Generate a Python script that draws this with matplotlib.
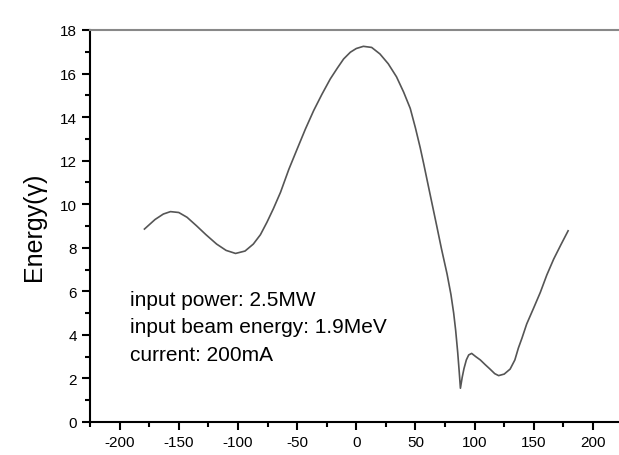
import matplotlib
matplotlib.use("Agg")
from matplotlib import pyplot as plt
from matplotlib.ticker import MultipleLocator

# values
phase = [-179, -170, -163, -157, -150, -143, -135, -127, -118, -110, -102,
         -94, -87, -81, -75.5, -70, -64, -57, -50, -43, -36, -29, -22, -16,
         -10.7, -5, 0, 6, 13, 20, 27, 34, 40, 45.6, 50, 54, 57, 62, 68,
         72, 76.7, 80, 82.3, 84, 85.7, 87, 88, 89.5, 91, 93, 95, 97.5,
         101, 104.8, 109, 113, 117, 120.3, 125, 130, 134, 137, 140, 144,
         150, 155.5, 161, 166.8, 173, 179]
energy = [8.86, 9.3, 9.55, 9.66, 9.62, 9.4, 9.01, 8.6, 8.17, 7.88, 7.74,
          7.85, 8.17, 8.6, 9.17, 9.8, 10.55, 11.6, 12.53, 13.45, 14.3, 15.05,
          15.75, 16.25, 16.67, 16.98, 17.15, 17.25, 17.2, 16.9, 16.45, 15.85,
          15.15, 14.4, 13.5, 12.6, 11.85, 10.55, 9.0, 7.95, 6.8, 5.85, 5.0,
          4.2, 3.2, 2.3, 1.55, 2.05, 2.45, 2.85, 3.08, 3.15, 3.0, 2.85, 2.63,
          2.43, 2.22, 2.13, 2.2, 2.43, 2.85, 3.4, 3.85, 4.5, 5.25, 5.95,
          6.75, 7.48, 8.15, 8.78]

notes = ["input power: 2.5MW", "input beam energy: 1.9MeV", "current: 200mA"]

plt.rcParams['font.family'] = ['Liberation Sans', 'DejaVu Sans']
plt.rcParams['axes.unicode_minus'] = False

fig = plt.figure(figsize=(6.19, 4.56), dpi=100)
ax = fig.add_axes([90 / 619, 33 / 456, 1 - 90 / 619, 392 / 456])

ax.plot(phase, energy, color="#555555", lw=1.2)

ax.set_xlim(-225, 222)
ax.set_ylim(0, 18)
ax.xaxis.set_major_locator(MultipleLocator(50))
ax.xaxis.set_minor_locator(MultipleLocator(25))
ax.yaxis.set_major_locator(MultipleLocator(2))
ax.yaxis.set_minor_locator(MultipleLocator(1))

ax.spines["right"].set_visible(False)
ax.spines["top"].set_color("#888888")
ax.spines["top"].set_linewidth(1.5)
ax.spines["left"].set_linewidth(1.5)
ax.spines["bottom"].set_linewidth(1.5)

ax.tick_params(which="major", direction="out", length=6, width=1.5,
               labelsize=11, top=False, right=False)
ax.tick_params(which="minor", direction="out", length=3.5, width=1.5,
               top=False, right=False)

ax.set_ylabel("Energy(\u03b3)", fontsize=18, labelpad=10)

# notes placed by pixel rows from the top of the figure
for i, s in enumerate(notes):
    ax.text(130, 456 - (306 + i * 27.5), s, fontsize=15, transform=None)

fig.savefig("out.png", dpi=100)
